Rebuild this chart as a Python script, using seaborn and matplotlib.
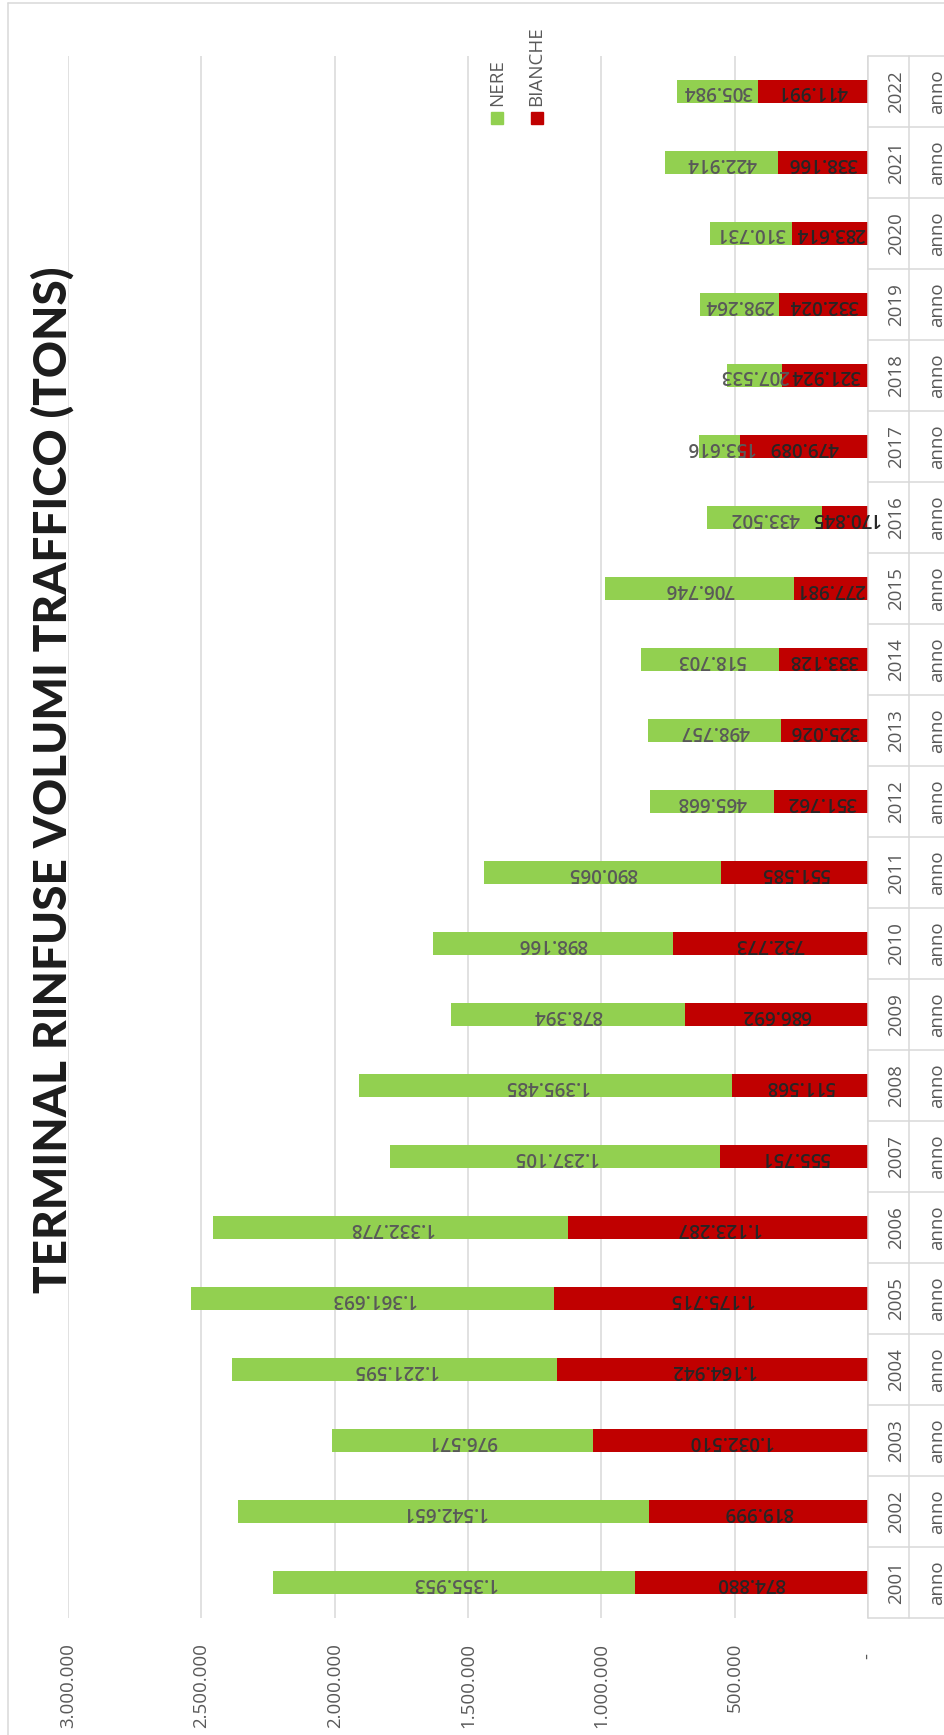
import matplotlib
matplotlib.use("Agg")
import matplotlib.pyplot as plt
import matplotlib.transforms as mtransforms
from matplotlib.lines import Line2D
from matplotlib.patches import Rectangle
import seaborn as sns
import pandas as pd

# ---------------- data ----------------
years = [str(y) for y in range(2001, 2023)]
bianche = [874880, 819999, 1032510, 1164942, 1175715, 1123287, 555751, 511568,
           686692, 732773, 551585, 351762, 325026, 333128, 277981, 170845,
           479089, 321924, 332024, 283614, 338166, 411991]
nere = [1355953, 1542651, 976571, 1221595, 1361693, 1332778, 1237105, 1395485,
        878394, 898166, 890065, 465668, 498757, 518703, 706746, 433502,
        153616, 207533, 298264, 310731, 422914, 305984]
x_ticks = [0, 500000, 1000000, 1500000, 2000000, 2500000, 3000000]
x_tick_labels = ["-  ", "500.000", "1.000.000", "1.500.000", "2.000.000",
                 "2.500.000", "3.000.000"]
category_prefix = "anno"
series_names = ["NERE", "BIANCHE"]
title = "TERMINAL RINFUSE VOLUMI TRAFFICO (TONS)"

RED = "#C00000"
GREEN = "#92D050"
GRID = "#D9D9D9"
TXT = "#595959"

def fmt(v):
    return f"{v:,}".replace(",", ".")

sns.set_theme(style="white")
plt.rcParams["font.family"] = ["Open Sans", "DejaVu Sans"]

W, H = 945, 1735
fig = plt.figure(figsize=(W / 100, H / 100), dpi=100)
fig.patch.set_facecolor("white")
ax_l, ax_r, ax_t, ax_b = 68, 868, 56, 1618
ax = fig.add_axes([ax_l / W, 1 - ax_b / H, (ax_r - ax_l) / W, (ax_b - ax_t) / H])

df = pd.DataFrame({"anno": years, "BIANCHE": bianche, "NERE": nere})
df["TOTALE"] = df["BIANCHE"] + df["NERE"]
order = years[::-1]

sns.barplot(data=df, x="TOTALE", y="anno", order=order, orient="h",
            color=GREEN, saturation=1, width=0.31, errorbar=None,
            linewidth=0, ax=ax)
n = len(order)
sns.barplot(data=df, x="BIANCHE", y="anno", order=order, orient="h",
            color=RED, saturation=1, width=0.31, errorbar=None,
            linewidth=0, ax=ax)

ax.set_xlim(3000000, 0)
ax.set_ylim(n - 0.5, -0.5)
ax.set_xlabel("")
ax.set_ylabel("")
for s in ax.spines.values():
    s.set_visible(False)
ax.set_axisbelow(True)
ax.xaxis.grid(True, color=GRID, linewidth=1.1)
ax.yaxis.grid(False)
ax.set_xticks(x_ticks)
ax.set_xticklabels(x_tick_labels, rotation=90, color=TXT, fontsize=13.5)
ax.tick_params(axis="x", length=0, pad=18)
ax.set_yticks([])

# data labels from bars
green_patches = ax.patches[:n]
red_patches = ax.patches[n:2 * n]
lookup = df.set_index("anno")
for yr, gp, rp in zip(order, green_patches, red_patches):
    yc = rp.get_y() + rp.get_height() / 2
    r = rp.get_width()
    t = gp.get_width()
    ax.text(r / 2, yc, fmt(int(lookup.loc[yr, "BIANCHE"])), rotation=180,
            ha="center", va="center", fontsize=13.5, color="#262626",
            fontweight="semibold", clip_on=False, zorder=5)
    ax.text((r + t) / 2, yc, fmt(int(lookup.loc[yr, "NERE"])), rotation=180,
            ha="center", va="center", fontsize=13.5, color=TXT,
            fontweight="semibold", clip_on=False, zorder=5)

# category table on the right
blend = mtransforms.blended_transform_factory(ax.transAxes, ax.transData)
axw = ax_r - ax_l
x_year = (896 - ax_l) / axw
x_anno = (937 - ax_l) / axw
x_div = (909 - ax_l) / axw
x_end = (W + 5 - ax_l) / axw
for i, yr in enumerate(order):
    ax.text(x_year, i, yr, rotation=90, ha="center", va="center",
            fontsize=13.5, color=TXT, transform=blend, clip_on=False)
    ax.text(x_anno, i, category_prefix, rotation=90, ha="center", va="center",
            fontsize=13.5, color=TXT, transform=blend, clip_on=False)
for k in range(n + 1):
    ax.add_line(Line2D([1.0, x_end], [k - 0.5, k - 0.5], transform=blend,
                       color=GRID, linewidth=1.1, clip_on=False))
ax.add_line(Line2D([1.0, 1.0], [-0.5, n - 0.5], transform=blend,
                   color=GRID, linewidth=1.1, clip_on=False))
ax.add_line(Line2D([x_div, x_div], [-0.5, n - 0.5], transform=blend,
                   color=GRID, linewidth=1.1, clip_on=False))

# legend (rotated)
for name, col, cx in [("NERE", GREEN, 497), ("BIANCHE", RED, 536.5)]:
    fig.patches.append(Rectangle(((cx - 6) / W, 1 - 124 / H), 12 / W, 12 / H,
                                 transform=fig.transFigure, color=col,
                                 figure=fig))
    fig.text(cx / W, 1 - 106 / H, name, rotation=90, ha="center", va="bottom",
             fontsize=13.5, color=TXT)

# title
fig.text(53 / W, 1 - 779.5 / H, title, rotation=90, ha="center", va="center",
         fontsize=33, fontweight="black", color="#1c1c1c",
         family=["Lato", "DejaVu Sans"])

# outer chart border
fig.add_artist(Line2D([8 / W, 8 / W], [0, 1 - 3 / H], transform=fig.transFigure,
                      color=GRID, linewidth=1.1))
fig.add_artist(Line2D([8 / W, 1], [1 - 3 / H, 1 - 3 / H],
                      transform=fig.transFigure, color=GRID, linewidth=1.1))

fig.savefig("out.png", dpi=100, facecolor="white")
